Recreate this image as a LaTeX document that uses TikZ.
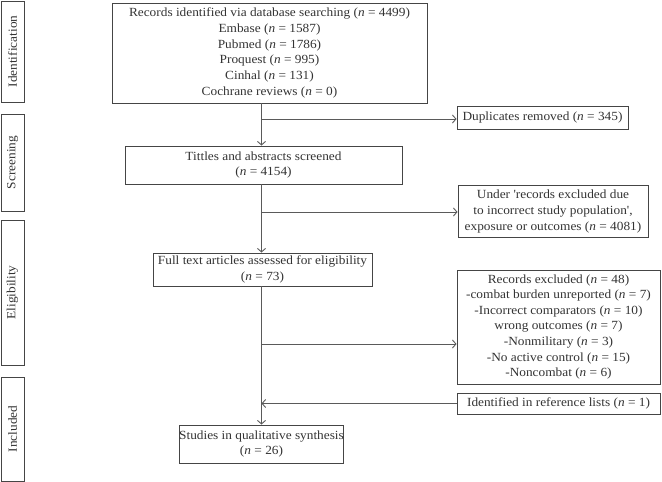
\documentclass[tikz,border=0pt]{standalone}
\usepackage{fontspec}
\setmainfont{Liberation Serif}[Ligatures=TeXOff,FakeStretch=1.07]
\usetikzlibrary{arrows.meta}
\definecolor{txt}{HTML}{333333}
\definecolor{ln}{HTML}{5A5A5A}
\definecolor{bx}{HTML}{454545}
\begin{document}
\begin{tikzpicture}[x=1bp,y=-1bp,
  box/.style={draw=bx,line width=0.9bp,text=txt,align=center,inner sep=0pt,
    font=\fontsize{12.5}{15.7}\selectfont},
  stagelab/.style={draw=bx,line width=0.9bp,text=txt,rotate=90,inner sep=0pt,
    font=\fontsize{12.5}{14}\selectfont},
  conn/.style={draw=ln,line width=0.9bp},
  arr/.style={conn,-{Straight Barb[length=3.5bp,width=8bp]}}]
\useasboundingbox (0,0) rectangle (662,482);
% stage labels
\node[stagelab,minimum width=101bp,minimum height=23bp] (idl) at (12.5,51.5) {Identification};
\node[stagelab,minimum width=97bp,minimum height=23bp] (scl) at (12.5,162.5) {Screening};
\node[stagelab,minimum width=145bp,minimum height=23bp] (ell) at (12.5,292.5) {Eligibility};
\node[stagelab,minimum width=104bp,minimum height=23bp] (inl) at (12.5,429) {Included};
% main boxes
\node[box,minimum width=315bp,minimum height=100bp] (rec) at (269.5,53)
  {Records identified via database searching (\textit{n} = 4499)\\
   Embase (\textit{n} = 1587)\\ Pubmed (\textit{n} = 1786)\\ Proquest (\textit{n} = 995)\\
   Cinhal (\textit{n} = 131)\\ Cochrane reviews (\textit{n} = 0)};
\node[box,minimum width=277bp,minimum height=38bp] (tit) at (263.5,165)
  {Tittles and abstracts screened\\ (\textit{n} = 4154)};
\node[box,minimum width=219bp,minimum height=33bp] (full) at (262.5,269.5)
  {Full text articles assessed for eligibility\\ (\textit{n} = 73)};
\node[box,minimum width=163bp,minimum height=38bp] (stu) at (261.5,444)
  {Studies in qualitative synthesis\\ (\textit{n} = 26)};
% side boxes
\node[box,minimum width=171bp,minimum height=23bp] (dup) at (542.5,118)
  {Duplicates removed (\textit{n} = 345)};
\node[box,minimum width=190bp,minimum height=52bp] (und) at (553,211.5)
  {Under 'records excluded due\\ to incorrect study population',\\ exposure or outcomes (\textit{n} = 4081)};
\node[box,minimum width=203bp,minimum height=114bp] (rex) at (558.5,327)
  {Records excluded (\textit{n} = 48)\\ -combat burden unreported (\textit{n} = 7)\\
   -Incorrect comparators (\textit{n} = 10)\\ wrong outcomes (\textit{n} = 7)\\
   -Nonmilitary (\textit{n} = 3)\\ -No active control (\textit{n} = 15)\\ -Noncombat (\textit{n} = 6)};
\node[box,minimum width=203bp,minimum height=21bp] (ide) at (558.5,403.5)
  {Identified in reference lists (\textit{n} = 1)};
% spine
\coordinate (sp) at (261.5,0);
\coordinate (b1) at (261.5,119);
\coordinate (b2) at (261.5,212);
\coordinate (b3) at (261.5,344);
\coordinate (b4) at (261.5,403.5);
\draw[arr] (rec.south -| sp) -- (tit.north -| sp);
\draw[arr] (b1) -- (dup.west |- b1);
\draw[arr] (tit.south -| sp) -- (full.north -| sp);
\draw[arr] (b2) -- (und.west |- b2);
\draw[arr] (full.south -| sp) -- (stu.north -| sp);
\draw[arr] (b3) -- (rex.west |- b3);
\draw[arr] (ide.west) -- (b4);
\end{tikzpicture}
\end{document}
